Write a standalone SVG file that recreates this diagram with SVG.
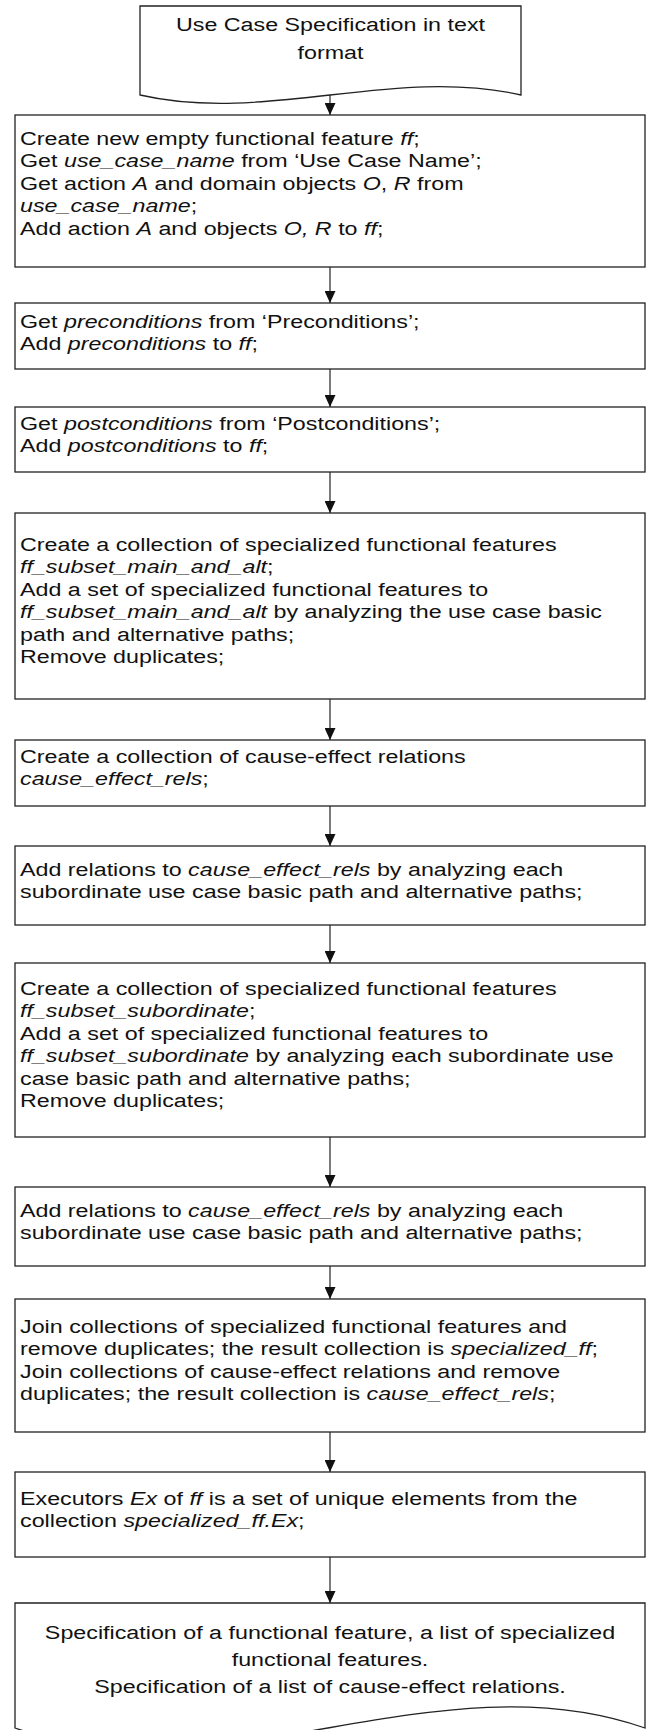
<svg xmlns="http://www.w3.org/2000/svg" width="646" height="1730" viewBox="0 0 646 1730">
<style>
.box{fill:#fff;stroke:#222;stroke-width:1.3}
.t{font-family:"Liberation Sans",Arial,sans-serif;font-size:19px;fill:#111}
.c{text-anchor:middle}
.i{font-style:italic}
.conn line{stroke:#222;stroke-width:1.2}
</style>
<defs>
<marker id="arr" markerUnits="userSpaceOnUse" markerWidth="12" markerHeight="11" refX="12" refY="5.5" orient="auto">
<path d="M0,0 L12,5.5 L0,11 z" fill="#111"/>
</marker>
</defs>
<rect width="646" height="1730" fill="#fff"/>
<g id="connectors" class="conn">
<line x1="330" y1="95" x2="330" y2="115" marker-end="url(#arr)"/>
<line x1="330" y1="267" x2="330" y2="303" marker-end="url(#arr)"/>
<line x1="330" y1="369" x2="330" y2="407" marker-end="url(#arr)"/>
<line x1="330" y1="472" x2="330" y2="513" marker-end="url(#arr)"/>
<line x1="330" y1="699" x2="330" y2="740" marker-end="url(#arr)"/>
<line x1="330" y1="806" x2="330" y2="846" marker-end="url(#arr)"/>
<line x1="330" y1="925" x2="330" y2="963" marker-end="url(#arr)"/>
<line x1="330" y1="1137" x2="330" y2="1187" marker-end="url(#arr)"/>
<line x1="330" y1="1266" x2="330" y2="1299" marker-end="url(#arr)"/>
<line x1="330" y1="1432" x2="330" y2="1472" marker-end="url(#arr)"/>
<line x1="330" y1="1557" x2="330" y2="1603" marker-end="url(#arr)"/>
</g>
<g id="input">
<path class="box" d="M140,6 H521 V95 C394,66 266,124 140,95 Z"/>
<text class="t c" transform="translate(330.5 0) scale(1.225 1)"><tspan x="0" y="31">Use Case Specification in text</tspan><tspan x="0" y="59">format</tspan></text>
</g>
<g id="step1">
<rect class="box" x="15" y="115" width="630" height="152"/>
<text class="t" transform="translate(20 0) scale(1.225 1)"><tspan x="0" y="145">Create new empty functional feature <tspan class="i">ff</tspan>;</tspan><tspan x="0" y="167.5">Get <tspan class="i">use_case_name</tspan> from ‘Use Case Name’;</tspan><tspan x="0" y="190">Get action <tspan class="i">A</tspan> and domain objects <tspan class="i">O</tspan>, <tspan class="i">R</tspan> from</tspan><tspan x="0" y="212.5"><tspan class="i">use_case_name</tspan>;</tspan><tspan x="0" y="235">Add action <tspan class="i">A</tspan> and objects <tspan class="i">O, R</tspan> to <tspan class="i">ff</tspan>;</tspan></text>
</g>
<g id="step2">
<rect class="box" x="15" y="303" width="630" height="66"/>
<text class="t" transform="translate(20 0) scale(1.225 1)"><tspan x="0" y="328">Get <tspan class="i">preconditions</tspan> from ‘Preconditions’;</tspan><tspan x="0" y="350.5">Add <tspan class="i">preconditions</tspan> to <tspan class="i">ff</tspan>;</tspan></text>
</g>
<g id="step3">
<rect class="box" x="15" y="407" width="630" height="65"/>
<text class="t" transform="translate(20 0) scale(1.225 1)"><tspan x="0" y="430">Get <tspan class="i">postconditions</tspan> from ‘Postconditions’;</tspan><tspan x="0" y="452.5">Add <tspan class="i">postconditions</tspan> to <tspan class="i">ff</tspan>;</tspan></text>
</g>
<g id="step4">
<rect class="box" x="15" y="513" width="630" height="186"/>
<text class="t" transform="translate(20 0) scale(1.225 1)"><tspan x="0" y="551">Create a collection of specialized functional features</tspan><tspan x="0" y="573.5"><tspan class="i">ff_subset_main_and_alt</tspan>;</tspan><tspan x="0" y="596">Add a set of specialized functional features to</tspan><tspan x="0" y="618.5"><tspan class="i">ff_subset_main_and_alt</tspan> by analyzing the use case basic</tspan><tspan x="0" y="641">path and alternative paths;</tspan><tspan x="0" y="663.5">Remove duplicates;</tspan></text>
</g>
<g id="step5">
<rect class="box" x="15" y="740" width="630" height="66"/>
<text class="t" transform="translate(20 0) scale(1.225 1)"><tspan x="0" y="763">Create a collection of cause-effect relations</tspan><tspan x="0" y="785.5"><tspan class="i">cause_effect_rels</tspan>;</tspan></text>
</g>
<g id="step6">
<rect class="box" x="15" y="846" width="630" height="79"/>
<text class="t" transform="translate(20 0) scale(1.225 1)"><tspan x="0" y="876">Add relations to <tspan class="i">cause_effect_rels</tspan> by analyzing each</tspan><tspan x="0" y="898.5">subordinate use case basic path and alternative paths;</tspan></text>
</g>
<g id="step7">
<rect class="box" x="15" y="963" width="630" height="174"/>
<text class="t" transform="translate(20 0) scale(1.225 1)"><tspan x="0" y="995">Create a collection of specialized functional features</tspan><tspan x="0" y="1017.5"><tspan class="i">ff_subset_subordinate</tspan>;</tspan><tspan x="0" y="1040">Add a set of specialized functional features to</tspan><tspan x="0" y="1062.5"><tspan class="i">ff_subset_subordinate</tspan> by analyzing each subordinate use</tspan><tspan x="0" y="1085">case basic path and alternative paths;</tspan><tspan x="0" y="1107.5">Remove duplicates;</tspan></text>
</g>
<g id="step8">
<rect class="box" x="15" y="1187" width="630" height="79"/>
<text class="t" transform="translate(20 0) scale(1.225 1)"><tspan x="0" y="1217">Add relations to <tspan class="i">cause_effect_rels</tspan> by analyzing each</tspan><tspan x="0" y="1239.5">subordinate use case basic path and alternative paths;</tspan></text>
</g>
<g id="step9">
<rect class="box" x="15" y="1299" width="630" height="133"/>
<text class="t" transform="translate(20 0) scale(1.225 1)"><tspan x="0" y="1333">Join collections of specialized functional features and</tspan><tspan x="0" y="1355.5">remove duplicates; the result collection is <tspan class="i">specialized_ff</tspan>;</tspan><tspan x="0" y="1378">Join collections of cause-effect relations and remove</tspan><tspan x="0" y="1400.5">duplicates; the result collection is <tspan class="i">cause_effect_rels</tspan>;</tspan></text>
</g>
<g id="step10">
<rect class="box" x="15" y="1472" width="630" height="85"/>
<text class="t" transform="translate(20 0) scale(1.225 1)"><tspan x="0" y="1505">Executors <tspan class="i">Ex</tspan> of <tspan class="i">ff</tspan> is a set of unique elements from the</tspan><tspan x="0" y="1527.5">collection <tspan class="i">specialized_ff.Ex</tspan>;</tspan></text>
</g>
<g id="output">
<path class="box" d="M15,1603 H645 V1728 C437,1655 223,1800 15,1728 Z"/>
<text class="t c" transform="translate(330 0) scale(1.225 1)"><tspan x="0" y="1639">Specification of a functional feature, a list of specialized</tspan><tspan x="0" y="1666">functional features.</tspan><tspan x="0" y="1693">Specification of a list of cause-effect relations.</tspan></text>
</g>
</svg>
